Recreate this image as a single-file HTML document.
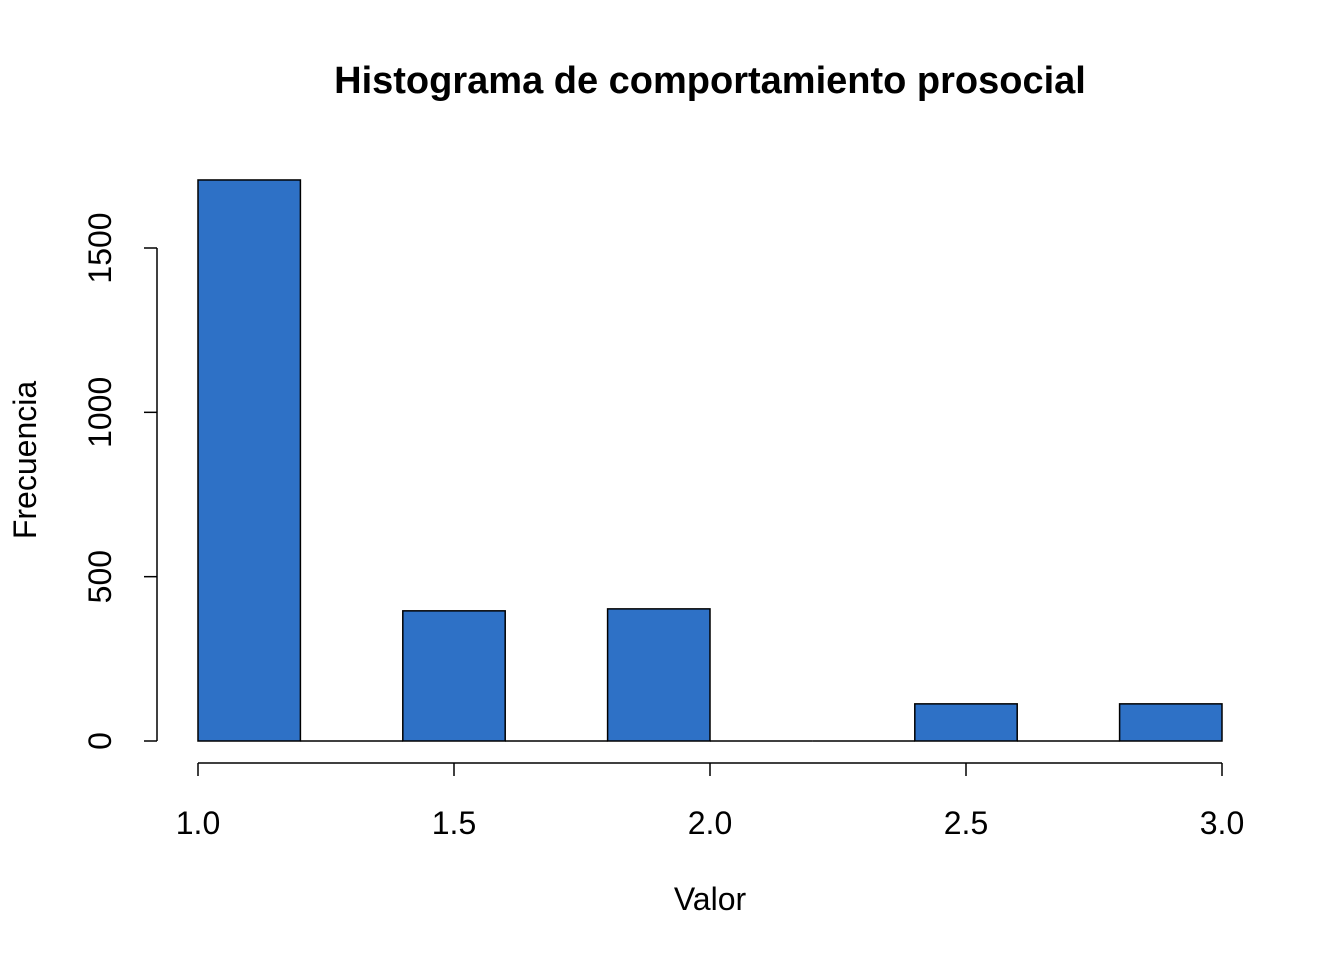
<!DOCTYPE html>
<html><head><meta charset="utf-8">
<style>
html,body{margin:0;padding:0;background:#fff;}
svg{display:block;font-family:"Liberation Sans",sans-serif;}
</style></head>
<body>
<svg id="chart" width="1344" height="960" viewBox="0 0 1344 960" xmlns="http://www.w3.org/2000/svg">
<text x="710" y="93" text-anchor="middle" font-size="38" font-weight="bold">Histograma de comportamiento prosocial</text>
<text x="710" y="910" text-anchor="middle" font-size="32">Valor</text>
<text transform="translate(36,460) rotate(-90)" text-anchor="middle" font-size="32">Frecuencia</text>
<g id="bars"></g>
<g id="axes"></g>
</svg>
<script>
const breaks = [1.0,1.2,1.4,1.6,1.8,2.0,2.2,2.4,2.6,2.8,3.0];
const counts = [1707,0,396,0,402,0,0,113,0,113];
const xTicks = [1.0,1.5,2.0,2.5,3.0];
const xTickLabels = ["1.0","1.5","2.0","2.5","3.0"];
const yTicks = [0,500,1000,1500];
const yTickLabels = ["0","500","1000","1500"];

const NS="http://www.w3.org/2000/svg";
function xs(v){return 198+(v-1.0)*512;}
function ys(v){return 741-v*(493/1500);}
function mk(tag,attrs,parent){const e=document.createElementNS(NS,tag);for(const k in attrs)e.setAttribute(k,attrs[k]);parent.appendChild(e);return e;}
const bars=document.getElementById('bars'), axes=document.getElementById('axes');
for(let i=0;i<counts.length;i++){
  const x0=xs(breaks[i]),x1=xs(breaks[i+1]),y=ys(counts[i]);
  let r;
  if(counts[i]>0){
    r=mk('rect',{x:x0,y:y,width:x1-x0,height:ys(0)-y,fill:'#2e71c6',stroke:'#000','stroke-width':1.5},bars);
  } else {
    r=mk('line',{x1:x0,x2:x1,y1:ys(0),y2:ys(0),stroke:'#000','stroke-width':1.5},bars);
  }
  
  
}
const xl=mk('line',{x1:xs(xTicks[0]),x2:xs(xTicks[xTicks.length-1]),y1:763,y2:763,stroke:'#000','stroke-width':1.5},axes);


xTicks.forEach((v,i)=>{
  mk('line',{x1:xs(v),x2:xs(v),y1:763,y2:776,stroke:'#000','stroke-width':1.5},axes);
  const t=mk('text',{x:xs(v),y:834,'text-anchor':'middle','font-size':32},axes);
  t.textContent=xTickLabels[i];
  
  
});
const yl=mk('line',{x1:157,x2:157,y1:ys(yTicks[0]),y2:ys(yTicks[yTicks.length-1]),stroke:'#000','stroke-width':1.5},axes);


yTicks.forEach((v,i)=>{
  mk('line',{x1:144,x2:157,y1:ys(v),y2:ys(v),stroke:'#000','stroke-width':1.5},axes);
  const t=mk('text',{transform:'translate(111,'+ys(v)+') rotate(-90)','text-anchor':'middle','font-size':32},axes);
  t.textContent=yTickLabels[i];
  
  
});
</script>
</body></html>
